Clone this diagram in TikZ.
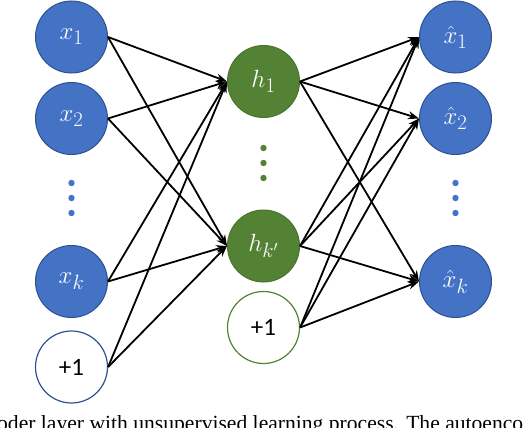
\documentclass[tikz,border=0pt]{standalone}
\usepackage{fontspec}
\usepackage{tikz}
\usetikzlibrary{arrows.meta, positioning}
\newfontfamily\labelfont{Carlito}
\newfontfamily\capfont{Liberation Serif}
\definecolor{infill}{HTML}{4472C4}
\definecolor{inedge}{HTML}{2F528F}
\definecolor{hidfill}{HTML}{548235}
\definecolor{hidedge}{HTML}{4A7330}

\begin{document}
\begin{tikzpicture}[
  x=1pt, y=-1pt,
  every node/.style={font=\fontsize{28}{32}\selectfont},
  innode/.style={circle, draw=inedge, fill=infill, line width=1pt, minimum size=72pt, inner sep=0pt, text=white},
  hidnode/.style={circle, draw=hidedge, fill=hidfill, line width=1pt, minimum size=72pt, inner sep=0pt, text=white},
  biasin/.style={circle, draw=inedge, fill=white, line width=1.2pt, minimum size=72pt, inner sep=0pt, font=\labelfont\fontsize{25}{28}\selectfont},
  biashid/.style={biasin, draw=hidfill},
  arr/.style={-{Stealth[length=11pt, width=8pt]}, line width=1.8pt}
]
\useasboundingbox (0,0) rectangle (528,428);

% Nodes
\node[innode] (x1) at (71.5,37) {$x_1$};
\node[innode] (x2) at (71.5,118.5) {$x_2$};
\node[innode] (xk) at (71.5,281.5) {$x_k$};
\node[biasin] (b1) at (71.5,367) {+1};

\node[hidnode] (h1) at (263.5,81.5) {$h_1$};
\node[hidnode] (hk) at (263.5,246) {$h_{k'}$};
\node[biashid] (b2) at (263.5,327.5) {+1};

\node[innode] (y1) at (455.5,37) {$\hat{x}_1$};
\node[innode] (y2) at (455.5,118.5) {$\hat{x}_2$};
\node[innode] (yk) at (455.5,281.5) {$\hat{x}_k$};

% Dots
\foreach \d in {183,198,213} {
  \fill[infill] (71.5,\d) circle (3.2pt);
  \fill[infill] (455.5,\d) circle (3.2pt);
}
\foreach \d in {148,163,178}
  \fill[hidfill] (263.5,\d) circle (3.2pt);

% Edges
\draw[arr] (x1.east) -- (h1.west);
\draw[arr] (x1.east) -- (hk.west);
\draw[arr] (x2.east) -- (h1.west);
\draw[arr] (x2.east) -- (hk.west);
\draw[arr] (xk.east) -- (h1.west);
\draw[arr] (xk.east) -- (hk.west);
\draw[arr] (b1.east) -- (h1.west);
\draw[arr] (b1.east) -- (hk.west);

\draw[arr] (h1.east) -- (y1.west);
\draw[arr] (h1.east) -- (y2.west);
\draw[arr] (h1.east) -- (yk.west);
\draw[arr] (hk.east) -- (y1.west);
\draw[arr] (hk.east) -- (y2.west);
\draw[arr] (hk.east) -- (yk.west);
\draw[arr] (b2.east) -- (y1.west);
\draw[arr] (b2.east) -- (y2.west);
\draw[arr] (b2.east) -- (yk.west);

% Caption
\begin{scope}
\clip (0,0) rectangle (528,428);
\node[anchor=base west, inner sep=0pt, font=\capfont\fontsize{21.6}{26}\selectfont] (cap) at (-3,430)
  {oder layer with unsupervised learning process. The autoenco};
\end{scope}

\end{tikzpicture}
\end{document}
